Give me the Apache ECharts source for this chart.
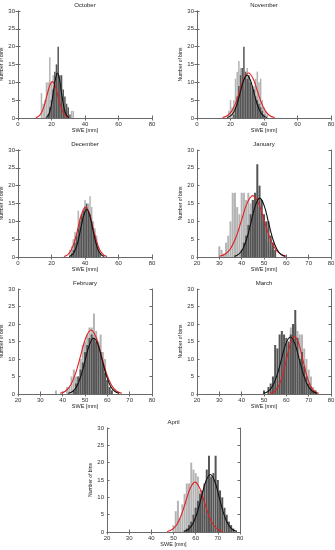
<!DOCTYPE html>
<html><head><meta charset="utf-8">
<script src="https://cdn.jsdelivr.net/npm/echarts@6.0.0/dist/echarts.min.js"></script>
<style>html,body{margin:0;padding:0;background:#fff}#c{width:335px;height:550px}</style>
</head><body><div id="c"></div>
<script>
// ---- panel set-up ----
const months = ['October','November','December','January','February','March','April'];
const xMins = [0, 0, 0, 20, 20, 20, 20];
const xMaxs = [80, 80, 80, 80, 80, 80, 80];
const xSteps = [20, 20, 20, 10, 10, 10, 10];
const yMax = 30, yStep = 5;

// ---- histograms (1 mm bins): first bin centre + counts ----
const lightStart = [14, 19, 31, 30, 37, 56, 50];
const octLight = [7,4,5,10,10,17,10,12,8,15,10,9,5,4,2,1,2,0,2,2];
const novLight = [2,5,3,5,11,13,16,14,10,8,12,14,10,7,6,9,11,13,10,11,5,3,2,1];
const decLight = [2,3,5,7,6,13,11,12,13,16,14,15,17,14,10,8,6,3,1];
const janLight = [3,2,1,4,6,10,18,18,14,12,18,18,16,18,15,16,18,15,13,10,7,5,4,2,1];
const febLight = [1,0,0,0,0,2,2,5,7,5,5,10,14,15,17,19,19,23,18,15,17,12,10,4,2,1];
const marLight = [2,4,6,8,11,14,19,16,20,18,17,17,13,10,7,5,2,1];
const aprLight = [2,6,9,4,8,11,14,14,20,18,17,16,12,10,7,5,3,2,1];

const darkStart = [18, 22, 32, 40, 45, 50, 56];
const octDark = [1,3,5,8,13,15,20,12,12,8,6,4,3,1];
const novDark = [1,3,6,9,12,14,20,13,11,12,10,9,8,6,5,4,3,2,1];
const decDark = [1,2,4,6,8,10,12,13,14,15,13,12,10,8,6,4,2,1];
const janDark = [2,4,6,9,12,16,18,26,20,16,12,10,10,6,4,2];
const febDark = [1,3,5,7,9,12,14,16,17,16,15,14,12,9,6,4,2,1];
const marDark = [1,0,2,3,5,14,13,17,18,17,16,15,17,20,24,16,10,12,8,5,3,2,1,1];
const aprDark = [1,2,3,5,7,9,11,12,14,18,22,16,17,22,15,12,10,7,5,3,2,1];

// ---- fitted curves ----
const octRedX = [10.6,12.3,13.9,15.6,17.2,18.9,20.5,22.2,23.8,25.5,27.1,28.8,30.4];
const octRedY = [0.11,0.45,1.38,3.31,6.19,9.0,10.2,9.0,6.19,3.31,1.38,0.45,0.11];
const octBlkX = [16.6,17.8,18.9,20.1,21.2,22.4,23.5,24.7,25.8,27.0,28.1,29.3,30.4];
const octBlkY = [0.14,0.55,1.69,4.06,7.58,11.03,12.5,11.03,7.58,4.06,1.69,0.55,0.14];
const novRedX = [15.2,17.8,20.4,23.0,25.6,28.2,30.8,33.4,36.0,38.6,41.2,43.8,46.4];
const novRedY = [0.14,0.55,1.70,4.09,7.64,11.12,12.6,11.12,7.64,4.09,1.70,0.55,0.14];
const novBlkX = [17.9,19.9,21.9,23.9,25.9,27.9,29.9,31.9,33.9,35.9,37.9,39.9,41.9];
const novBlkY = [0.13,0.53,1.62,3.90,7.28,10.59,12.0,10.59,7.28,3.90,1.62,0.53,0.13];
const decRedX = [27.4,29.6,31.7,33.9,36.0,38.2,40.3,42.5,44.6,46.8,48.9,51.1,53.2];
const decRedY = [0.16,0.61,1.89,4.55,8.49,12.36,14.0,12.36,8.49,4.55,1.89,0.61,0.16];
const decBlkX = [30.5,32.3,34.0,35.8,37.5,39.3,41.0,42.8,44.5,46.3,48.0,49.8,51.5];
const decBlkY = [0.15,0.58,1.80,4.32,8.07,11.74,13.3,11.74,8.07,4.32,1.80,0.58,0.15];
const janRedX = [30,32.5,35,37.5,40,42.5,45,47.5,50,52.5,55,57.5,60];
const janRedY = [0.19,0.76,2.33,5.58,10.43,15.18,17.2,15.18,10.43,5.58,2.33,0.76,0.19];
const janBlkX = [36.7,38.6,40.5,42.4,44.3,46.2,48.1,50.0,51.9,53.8,55.7,57.6,59.5];
const janBlkY = [0.18,0.72,2.23,5.36,10.01,14.56,16.5,14.56,10.01,5.36,2.23,0.72,0.18];
const febRedX = [38.9,41.2,43.5,45.8,48.1,50.4,52.7,55.0,57.3,59.6,61.9,64.2,66.5];
const febRedY = [0.20,0.80,2.48,5.94,11.10,16.15,18.3,16.15,11.10,5.94,2.48,0.80,0.20];
const febBlkX = [42.5,44.4,46.3,48.2,50.1,52.0,53.9,55.8,57.7,59.6,61.5,63.4,65.3];
const febBlkY = [0.18,0.70,2.16,5.20,9.70,14.12,16.0,14.12,9.70,5.20,2.16,0.70,0.18];
const marRedX = [52.9,54.7,56.5,58.3,60.1,61.9,63.7,65.5,67.3,69.1,70.9,72.7,74.5];
const marRedY = [0.18,0.72,2.23,5.36,10.01,14.56,16.5,14.56,10.01,5.36,2.23,0.72,0.18];
const marBlkX = [49.8,51.8,53.8,55.8,57.8,59.8,61.8,63.8,65.8,67.8,69.8,71.8,73.8];
const marBlkY = [0.18,0.72,2.21,5.29,9.89,14.38,16.3,14.38,9.89,5.29,2.21,0.72,0.18];
const aprRedX = [47.1,49.2,51.3,53.4,55.5,57.6,59.7,61.8,63.9,66.0,68.1,70.2,72.3];
const aprRedY = [0.16,0.63,1.95,4.68,8.73,12.71,14.4,12.71,8.73,4.68,1.95,0.63,0.16];
const aprBlkX = [54.6,56.6,58.6,60.6,62.6,64.6,66.6,68.6,70.6,72.6,74.6,76.6,78.6];
const aprBlkY = [0.18,0.73,2.25,5.39,10.07,14.65,16.6,14.65,10.07,5.39,2.25,0.73,0.18];

const lights = [octLight, novLight, decLight, janLight, febLight, marLight, aprLight];
const darks = [octDark, novDark, decDark, janDark, febDark, marDark, aprDark];
const redXs = [octRedX, novRedX, decRedX, janRedX, febRedX, marRedX, aprRedX];
const redYs = [octRedY, novRedY, decRedY, janRedY, febRedY, marRedY, aprRedY];
const blkXs = [octBlkX, novBlkX, decBlkX, janBlkX, febBlkX, marBlkX, aprBlkX];
const blkYs = [octBlkY, novBlkY, decBlkY, janBlkY, febBlkY, marBlkY, aprBlkY];

// ---- layout ----
const grids = [
  {left: 18, top: 11, width: 134, height: 107},
  {left: 197, top: 11, width: 134, height: 107},
  {left: 18, top: 150, width: 134, height: 107},
  {left: 197, top: 150, width: 134, height: 107},
  {left: 18, top: 289, width: 134, height: 105},
  {left: 197, top: 289, width: 134, height: 105},
  {left: 107, top: 428, width: 133, height: 104}
];
const FONT = 'Liberation Sans';
const axisCol = '#6a6a6a';
const LIGHT = '#b4b4b4', DARK = '#555555';

const option = {
  animation: false,
  backgroundColor: '#fff',
  textStyle: {fontFamily: FONT},
  title: [], grid: [], xAxis: [], yAxis: [], series: []
};

function histSeries(i, start, counts, color, z) {
  const data = [];
  counts.forEach((n, k) => { if (n > 0) data.push([start + k, n]); });
  return {
    type: 'custom', xAxisIndex: 2 * i, yAxisIndex: 2 * i, z: z, clip: true, silent: true,
    encode: {x: 0, y: 1}, data: data,
    renderItem: function (params, api) {
      const x = api.value(0), y = api.value(1);
      const a = api.coord([x - 0.45, y]);
      const b = api.coord([x + 0.45, 0]);
      return {type: 'rect', shape: {x: a[0], y: a[1], width: b[0] - a[0], height: b[1] - a[1]},
        style: {fill: color}};
    }
  };
}
function curveSeries(i, xs, ys, color, z) {
  return {
    type: 'line', xAxisIndex: 2 * i, yAxisIndex: 2 * i, z: z, silent: true,
    data: xs.map((x, k) => [x, ys[k]]), smooth: 0.4, showSymbol: false, symbol: 'none',
    lineStyle: {color: color, width: 1.1}, clip: true
  };
}

months.forEach((m, i) => {
  const g = grids[i];
  option.grid.push(Object.assign({outerBoundsMode: 'none', containLabel: false}, g));
  option.title.push({
    text: m, left: g.left + g.width / 2, top: g.top - 8.5, textAlign: 'center', padding: 0,
    textStyle: {fontSize: 6, fontWeight: 'normal', color: '#222', fontFamily: FONT}
  });
  const common = {
    gridIndex: i, axisLine: {show: true, lineStyle: {color: axisCol, width: 1}},
    axisTick: {show: true, inside: true, length: 2.5, lineStyle: {color: axisCol, width: 1}},
    splitLine: {show: false}
  };
  option.xAxis.push(Object.assign({}, common, {
    type: 'value', position: 'bottom', min: xMins[i], max: xMaxs[i], interval: xSteps[i],
    axisLabel: {fontSize: 6, color: '#333', margin: 3, fontFamily: FONT, showMinLabel: true, showMaxLabel: true, hideOverlap: false},
    name: 'SWE [mm]', nameLocation: 'middle', nameGap: 9,
    nameTextStyle: {fontSize: 5.5, color: '#222', fontFamily: FONT}
  }));
  option.xAxis.push(Object.assign({}, common, {
    type: 'value', position: 'top', min: xMins[i], max: xMaxs[i], interval: xSteps[i],
    axisLabel: {show: false}
  }));
  option.yAxis.push(Object.assign({}, common, {
    type: 'value', position: 'left', min: 0, max: yMax, interval: yStep,
    axisLabel: {fontSize: 6, color: '#333', margin: 3, fontFamily: FONT, showMinLabel: true, showMaxLabel: true},
    name: 'Number of bins', nameLocation: 'middle', nameGap: 9,
    nameTextStyle: {fontSize: 5, color: '#222', fontFamily: FONT}
  }));
  option.yAxis.push(Object.assign({}, common, {
    type: 'value', position: 'right', min: 0, max: yMax, interval: yStep,
    axisLabel: {show: false}
  }));
  option.series.push(histSeries(i, lightStart[i], lights[i], LIGHT, 1));
  option.series.push(histSeries(i, darkStart[i], darks[i], DARK, 2));
  option.series.push(curveSeries(i, redXs[i], redYs[i], '#e02020', 3));
  option.series.push(curveSeries(i, blkXs[i], blkYs[i], '#111', 4));
});

const chart = echarts.init(document.getElementById('c'), null, {renderer: 'canvas'});
chart.setOption(option);
</script>
</body></html>
